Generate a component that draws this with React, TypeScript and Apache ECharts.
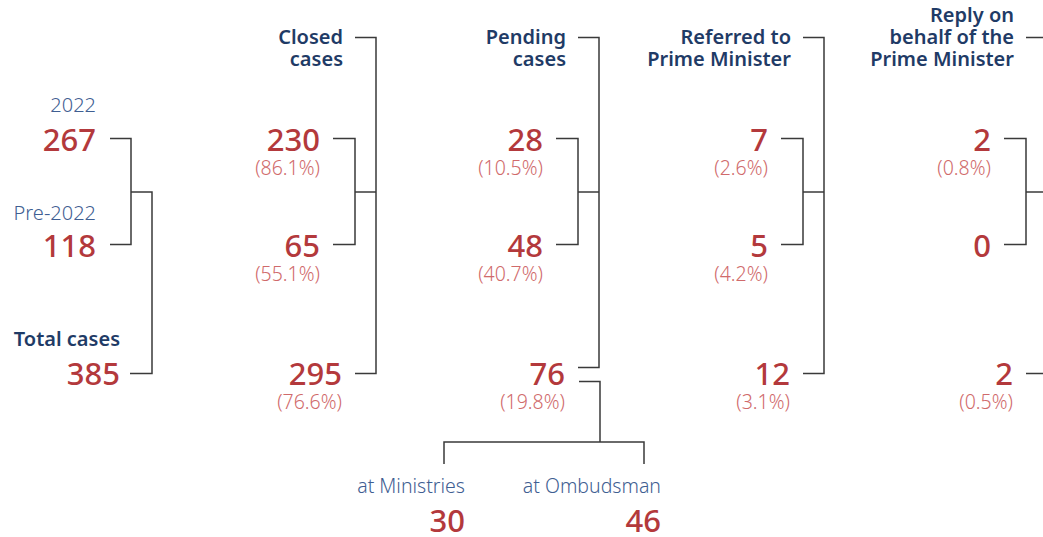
import React, { useEffect, useRef } from "react";
import * as echarts from "echarts";

// ---- data ----
const yearLabels = ["2022", "Pre-2022"];
const totalLabel = "Total cases";
const totals = [267, 118, 385];

const columnTitles = [
  "Closed\ncases",
  "Pending\ncases",
  "Referred to\nPrime Minister",
  "Reply on\nbehalf of the\nPrime Minister",
];
const closedValues = [230, 65, 295];
const closedPct = ["86.1%", "55.1%", "76.6%"];
const pendingValues = [28, 48, 76];
const pendingPct = ["10.5%", "40.7%", "19.8%"];
const referredValues = [7, 5, 12];
const referredPct = ["2.6%", "4.2%", "3.1%"];
const replyValues = [2, 0, 2];
const replyPct = ["0.8%", "", "0.5%"];

const pendingSplitLabels = ["at Ministries", "at Ombudsman"];
const pendingSplitValues = [30, 46];

// ---- styles / layout ----
const FONT = "'Noto Sans', sans-serif";
const NUM_COLOR = "#b3393c";
const PCT_COLOR = "#d06a6b";
const LABEL_COLOR = "#3f5e92";
const HEAD_COLOR = "#1f3b66";
const LINE_COLOR = "#3a3a3a";

const ROW_Y = [139, 245, 373];
const LINE_Y = [138.5, 244.5, 373.5];
const MID_Y = 192;
const HEAD_Y = 37.5;

const NUM_SIZE = 31;
const LABEL_SIZE = 20;
const HEAD_SIZE = 20;
const PCT_SIZE = 19.5;

function App() {
  const ref = useRef<HTMLDivElement>(null);

  useEffect(() => {
    if (!ref.current) return;
    const chart = echarts.init(ref.current, null, { renderer: "svg" });
    const g: any[] = [];

    const text = (
      s: string,
      x: number,
      y: number,
      size: number,
      weight: number | string,
      color: string
    ) =>
      g.push({
        type: "text",
        x,
        y,
        silent: true,
        style: {
          text: s,
          fontSize: size,
          fontFamily: FONT,
          fontWeight: weight,
          fill: color,
          align: "right",
          verticalAlign: "middle",
          lineHeight: Math.round(size),
        },
      });
    const line = (pts: number[][]) =>
      g.push({
        type: "polyline",
        silent: true,
        shape: { points: pts },
        style: { stroke: LINE_COLOR, lineWidth: 1.5, fill: null },
      });

    // column 0: totals
    const R0 = 96;
    text(yearLabels[0], R0, 104, LABEL_SIZE, 300, LABEL_COLOR);
    text(yearLabels[1], R0, 212, LABEL_SIZE, 300, LABEL_COLOR);
    text(String(totals[0]), R0, ROW_Y[0], NUM_SIZE, 500, NUM_COLOR);
    text(String(totals[1]), R0, ROW_Y[1], NUM_SIZE, 500, NUM_COLOR);
    text(totalLabel, R0 + 24, 338, HEAD_SIZE, 600, HEAD_COLOR);
    text(String(totals[2]), R0 + 24, ROW_Y[2], NUM_SIZE, 500, NUM_COLOR);
    line([
      [R0 + 14, LINE_Y[0]],
      [R0 + 35, LINE_Y[0]],
      [R0 + 35, LINE_Y[1]],
      [R0 + 14, LINE_Y[1]],
    ]);
    line([
      [R0 + 35, MID_Y],
      [R0 + 56, MID_Y],
      [R0 + 56, LINE_Y[2]],
      [R0 + 34, LINE_Y[2]],
    ]);

    const columns = [
      { v: closedValues, p: closedPct },
      { v: pendingValues, p: pendingPct },
      { v: referredValues, p: referredPct },
      { v: replyValues, p: replyPct },
    ];
    const colRight = [320, 543, 768, 991];

    columns.forEach((col, c) => {
      const R = colRight[c];
      const titleLines = columnTitles[c].split("\n");
      const n = titleLines.length;
      titleLines.forEach((t, k) => {
        text(t, R + 23, 58 - (n - 1 - k) * 22, HEAD_SIZE, 600, HEAD_COLOR);
      });
      for (let i = 0; i < 3; i++) {
        const rx = i === 2 ? R + 22 : R;
        text(String(col.v[i]), rx, ROW_Y[i], NUM_SIZE, 500, NUM_COLOR);
        if (col.p[i]) text("(" + col.p[i] + ")", rx, ROW_Y[i] + 28, PCT_SIZE, 300, PCT_COLOR);
      }
      line([
        [R + 13, LINE_Y[0]],
        [R + 35, LINE_Y[0]],
        [R + 35, LINE_Y[1]],
        [R + 13, LINE_Y[1]],
      ]);
      line([
        [R + 35, MID_Y],
        [R + 56, MID_Y],
      ]);
      const bottom = c === 1 ? LINE_Y[2] - 6 : LINE_Y[2];
      line([
        [R + 35, HEAD_Y],
        [R + 56, HEAD_Y],
        [R + 56, bottom],
        [R + 35, bottom],
      ]);
      if (c === 1) {
        // split of pending cases
        const sy = LINE_Y[2] + 8;
        const xs = [444, 644];
        line([
          [R + 36, sy],
          [R + 57, sy],
          [R + 57, 442],
        ]);
        line([
          [xs[0], 464],
          [xs[0], 442],
          [xs[1], 442],
          [xs[1], 464],
        ]);
        const rights = [465, 661];
        pendingSplitLabels.forEach((lab, k) => {
          text(lab, rights[k], 485, PCT_SIZE, 300, LABEL_COLOR);
          text(String(pendingSplitValues[k]), rights[k], 520, NUM_SIZE, 500, NUM_COLOR);
        });
      }
    });

    chart.setOption({
      animation: false,
      backgroundColor: "#ffffff",
      graphic: { elements: g },
    });
    return () => chart.dispose();
  }, []);

  return (
    <div
      ref={ref}
      style={{ position: "fixed", left: 0, top: 0, width: 1043, height: 537 }}
    />
  );
}

export default App;
